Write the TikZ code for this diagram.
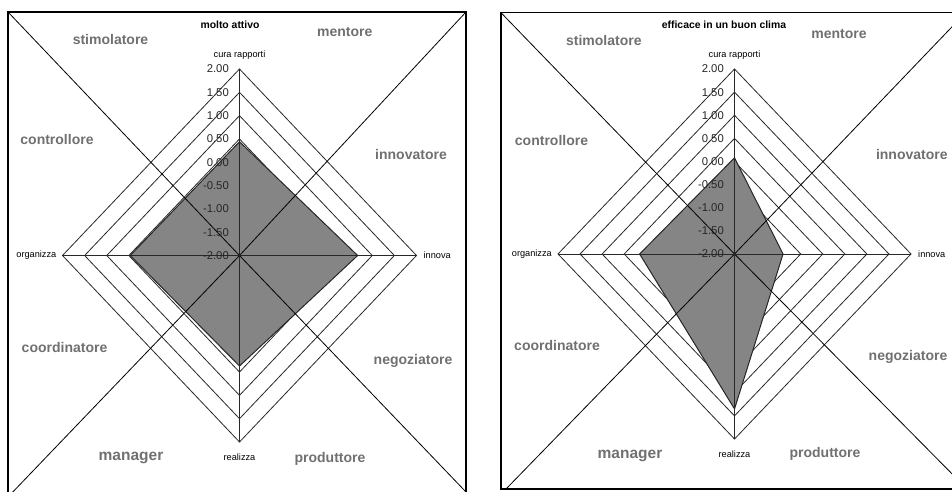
\documentclass[tikz,border=0pt]{standalone}
\usepackage{fontspec}
\setmainfont{Liberation Sans}
\definecolor{rolegray}{RGB}{112,112,112}
\definecolor{areafill}{RGB}{133,133,133}
\definecolor{gridline}{RGB}{40,40,40}
\tikzset{
  frame/.style={draw=black, line width=1.1pt},
  ringline/.style={draw=gridline, line width=0.8pt},
  axisline/.style={draw=gridline, line width=0.8pt},
  diag/.style={draw=black, line width=0.8pt},
  area/.style={fill=areafill, draw=black!85, line width=1pt, line join=miter},
  role/.style={text=rolegray, font=\fontsize{14}{16}\selectfont\bfseries, inner sep=0pt},
  bigrole/.style={role, font=\fontsize{15.5}{17}\selectfont\bfseries},
  ticklabel/.style={text=black!85, font=\fontsize{11.3}{13}\selectfont, inner sep=0pt, anchor=east},
  axislabel/.style={text=black, font=\fontsize{9.2}{11}\selectfont, inner sep=0pt},
  heading/.style={text=black, font=\fontsize{10.4}{12}\selectfont\bfseries, inner sep=0pt},
}

% Radar chart around the current origin.
% #1 name prefix, #2 half-width, #3 half-height,
% #4..#7 scores on the axes: top, right, bottom, left (scale -2..2)
\newcommand\radarchart[7]{%
  \foreach \k in {1,...,8}{
    \draw[ringline] (0,-\k*#3/8) -- (\k*#2/8,0) -- (0,\k*#3/8) -- (-\k*#2/8,0) -- cycle;
  }
  \draw[area] (0,{-(#4+2)*#3/4}) -- ({(#5+2)*#2/4},0) -- (0,{(#6+2)*#3/4}) -- ({-(#7+2)*#2/4},0) -- cycle;
  \coordinate (#1-c) at (0,0);
  \coordinate (#1-n) at (0,-#3);
  \coordinate (#1-e) at (#2,0);
  \coordinate (#1-s) at (0,#3);
  \coordinate (#1-w) at (-#2,0);
}
\newcommand\radaraxes[3]{%
  \draw[axisline] (#1-n) -- (#1-s);
  \draw[axisline] (#1-w) -- (#1-e);
  \foreach \k/\lab in {0/-2.00,1/-1.50,2/-1.00,3/-0.50,4/0.00,5/0.50,6/1.00,7/1.50,8/2.00}{
    \node[ticklabel] (#1-tick\k) at (-10.5,-\k*#3/8) {\lab};
  }
  \node[axislabel] (#1-cura) at (0,-#3-14) {cura rapporti};
  \node[axislabel, anchor=east] (#1-org) at (-#2-6,0) {organizza};
  \node[axislabel, anchor=west] (#1-inn) at (#2+7,0) {innova};
  \node[axislabel] (#1-real) at (0,#3+15) {realizza};
}

\begin{document}
\begin{tikzpicture}[x=1pt, y=-1pt]
\useasboundingbox (0,0) rectangle (952,492);
\clip (0,0) rectangle (952,492);

% ---------- left panel: molto attivo ----------
\draw[frame] (8,12) rectangle (466,497);
\coordinate (L-tl) at (8,12);
\coordinate (L-tr) at (466,12);
\coordinate (L-bl) at (8,497);
\coordinate (L-br) at (466,492);
\begin{scope}[shift={(239.5,255.5)}]
  \radarchart{L}{177}{186.5}{0.44}{0.67}{0.37}{0.47}
\end{scope}
\draw[diag] (L-tl) -- (L-c) -- (L-br);
\draw[diag] (L-tr) -- (L-c) -- (L-bl);
\begin{scope}[shift={(239.5,255.5)}]
  \radaraxes{L}{177}{186.5}
\end{scope}
\node[heading] (L-head) at (230,25) {molto attivo};
\node[role] (L-stim) at (110.5,39) {stimolatore};
\node[role] (L-ment) at (344.7,32) {mentore};
\node[role] (L-cont) at (57,139) {controllore};
\node[role] (L-innv) at (411,154) {innovatore};
\node[role] (L-coor) at (64.5,347) {coordinatore};
\node[role] (L-nego) at (413,360.5) {negoziatore};
\node[bigrole] (L-mana) at (131,457.5) {manager};
\node[role] (L-prod) at (330,458.8) {produttore};

% ---------- right panel: efficace in un buon clima ----------
\draw[frame] (501,12.7) rectangle (967,489);
\coordinate (R-tl) at (501,12.7);
\coordinate (R-tr) at (965.5,12.7);
\coordinate (R-bl) at (506,489);
\coordinate (R-br) at (967,489);
\begin{scope}[shift={(734.5,254)}]
  \radarchart{R}{176.5}{185}{0.08}{-0.9}{1.35}{0.15}
\end{scope}
\draw[diag] (R-tl) -- (R-c) -- (R-br);
\draw[diag] (R-tr) -- (R-c) -- (R-bl);
\begin{scope}[shift={(734.5,254)}]
  \radaraxes{R}{176.5}{185}
\end{scope}
\node[heading] (R-head) at (724,25) {efficace in un buon clima};
\node[role] (R-stim) at (603.8,40.8) {stimolatore};
\node[role] (R-ment) at (839,34) {mentore};
\node[role] (R-cont) at (551.5,140) {controllore};
\node[role] (R-innv) at (911.8,154.7) {innovatore};
\node[role] (R-coor) at (557,345) {coordinatore};
\node[role] (R-nego) at (908,357) {negoziatore};
\node[bigrole] (R-mana) at (630,456) {manager};
\node[role] (R-prod) at (825,454) {produttore};
\end{tikzpicture}
\end{document}
